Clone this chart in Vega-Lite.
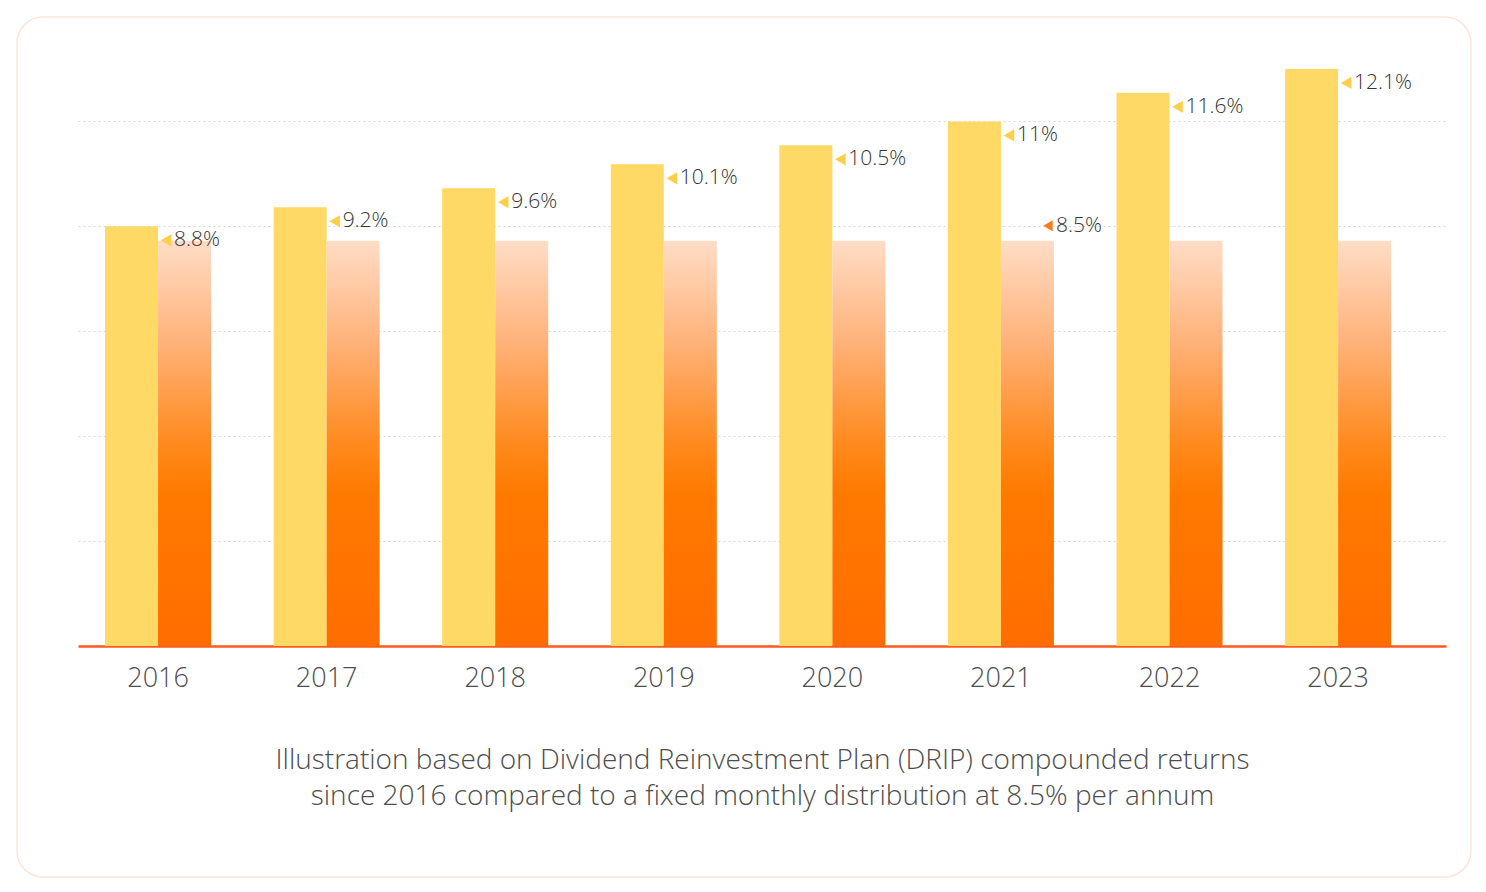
{
  "$schema": "https://vega.github.io/schema/vega-lite/v6.json",
  "width": 1454,
  "height": 860,
  "autosize": {"type": "none"},
  "padding": {"left": 17, "top": 17, "right": 15, "bottom": 15},
  "background": "#ffffff",
  "config": {
    "view": {"stroke": "#FBE6D9", "strokeWidth": 1.5, "cornerRadius": 26},
    "font": "Open Sans"
  },
  "data": {
    "values": [
      {"year": "2016", "series": "DRIP", "value": 8.8},
      {"year": "2017", "series": "DRIP", "value": 9.2},
      {"year": "2018", "series": "DRIP", "value": 9.6},
      {"year": "2019", "series": "DRIP", "value": 10.1},
      {"year": "2020", "series": "DRIP", "value": 10.5},
      {"year": "2021", "series": "DRIP", "value": 11},
      {"year": "2022", "series": "DRIP", "value": 11.6},
      {"year": "2023", "series": "DRIP", "value": 12.1},
      {"year": "2016", "series": "Fixed", "value": 8.5},
      {"year": "2017", "series": "Fixed", "value": 8.5},
      {"year": "2018", "series": "Fixed", "value": 8.5},
      {"year": "2019", "series": "Fixed", "value": 8.5},
      {"year": "2020", "series": "Fixed", "value": 8.5},
      {"year": "2021", "series": "Fixed", "value": 8.5},
      {"year": "2022", "series": "Fixed", "value": 8.5},
      {"year": "2023", "series": "Fixed", "value": 8.5}
    ]
  },
  "transform": [{"calculate": "format(datum.value, '.1~f') + '%'", "as": "label"}],
  "encoding": {
    "x": {
      "field": "year",
      "type": "nominal",
      "scale": {"range": [61, 1429], "paddingInner": 0.371, "paddingOuter": 0.243, "align": 0.33},
      "axis": {
        "orient": "bottom",
        "offset": -231,
        "labelAngle": 0,
        "labelFontSize": 27,
        "labelFontWeight": 300,
        "labelColor": "#4d4d4d",
        "labelFont": "Open Sans",
        "labelPadding": 19,
        "ticks": false,
        "tickSize": 0,
        "domainColor": "#FF5A1F",
        "domainWidth": 2.5,
        "grid": false,
        "title": ["Illustration based on Dividend Reinvestment Plan (DRIP) compounded returns", "since 2016 compared to a fixed monthly distribution at 8.5% per annum"],
        "titleFontSize": 28,
        "titleFontWeight": 300,
        "titleColor": "#4d4d4d",
        "titleFont": "Open Sans",
        "titlePadding": 55,
        "titleLineHeight": 36
      }
    },
    "y": {
      "field": "value",
      "type": "quantitative",
      "scale": {"domain": [0, 13.19], "range": [629, 0], "nice": false, "zero": true},
      "axis": {
        "values": [2.2, 4.4, 6.6, 8.8, 11],
        "grid": true,
        "gridColor": "#d6d6d6",
        "gridDash": [2, 3],
        "gridWidth": 1,
        "labels": false,
        "ticks": false,
        "domain": false,
        "title": null
      }
    }
  },
  "layer": [
    {
      "transform": [{"filter": "datum.series === 'DRIP'"}],
      "mark": {"type": "bar", "color": "#FFD966"},
      "encoding": {
        "xOffset": {"field": "series", "type": "nominal", "scale": {"domain": ["DRIP", "Fixed"], "paddingInner": 0, "paddingOuter": 0}}
      }
    },
    {
      "transform": [{"filter": "datum.series === 'Fixed'"}],
      "mark": {
        "type": "bar",
        "color": {
          "gradient": "linear",
          "x1": 0, "y1": 0, "x2": 0, "y2": 1,
          "stops": [
            {"offset": 0, "color": "#FFDDC6"},
            {"offset": 0.25, "color": "#FFB27A"},
            {"offset": 0.5, "color": "#FF8A1E"},
            {"offset": 0.62, "color": "#FF7A00"},
            {"offset": 1, "color": "#FF6D00"}
          ]
        }
      },
      "encoding": {
        "xOffset": {"field": "series", "type": "nominal", "scale": {"domain": ["DRIP", "Fixed"], "paddingInner": 0, "paddingOuter": 0}}
      }
    },
    {
      "transform": [{"filter": "datum.series === 'DRIP'"}],
      "mark": {"type": "point", "shape": "triangle-left", "filled": true, "size": 150, "color": "#FFCF4A", "opacity": 1, "xOffset": 8, "yOffset": 14},
      "encoding": {}
    },
    {
      "transform": [{"filter": "datum.series === 'DRIP'"}],
      "mark": {"type": "text", "align": "left", "baseline": "middle", "dx": 16, "dy": 14, "fontSize": 21, "fontWeight": 300, "color": "#333333", "font": "Open Sans"},
      "encoding": {"text": {"field": "label", "type": "nominal"}}
    },
    {
      "transform": [{"filter": "datum.series === 'Fixed' && datum.year === '2021'"}],
      "mark": {"type": "point", "shape": "triangle-left", "filled": true, "size": 120, "color": "#FF7A1A", "opacity": 1, "xOffset": 47, "yOffset": -15},
      "encoding": {}
    },
    {
      "transform": [{"filter": "datum.series === 'Fixed' && datum.year === '2021'"}],
      "mark": {"type": "text", "align": "left", "baseline": "middle", "dx": 55, "dy": -15, "fontSize": 21, "fontWeight": 300, "color": "#333333", "font": "Open Sans"},
      "encoding": {"text": {"field": "label", "type": "nominal"}}
    }
  ]
}
